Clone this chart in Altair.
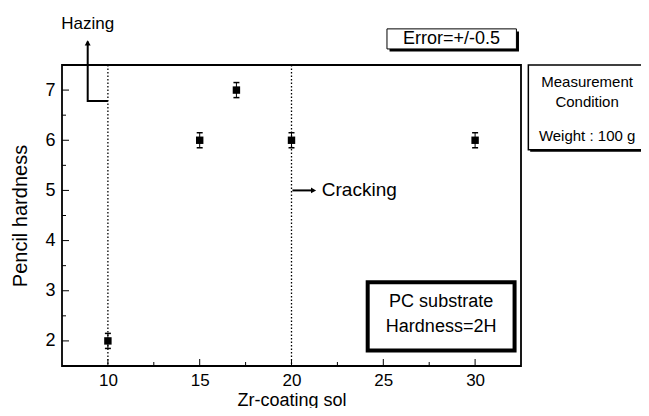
import altair as alt
import pandas as pd

# ---- data ----
zr_sol = [10, 15, 17, 20, 30]
hardness = [2, 6, 7, 6, 6]
err = [0.15, 0.15, 0.15, 0.15, 0.15]

x_major = [10, 15, 20, 25, 30]
x_minor = [12.5, 17.5, 22.5, 27.5]
y_major = [2, 3, 4, 5, 6, 7]
y_minor = [2.5, 3.5, 4.5, 5.5, 6.5]

boundaries = [10, 20]

FONT = "Liberation Sans, Arial, Helvetica, sans-serif"
W, H = 459, 301

df = pd.DataFrame({"x": zr_sol, "y": hardness, "lo": [a - b for a, b in zip(hardness, err)],
                   "hi": [a + b for a, b in zip(hardness, err)]})

xs = alt.Scale(domain=[7.5, 32.5], nice=False, zero=False)
ys = alt.Scale(domain=[1.5, 7.5], nice=False, zero=False)

X = lambda f: alt.X(f, type="quantitative", scale=xs)
Y = lambda f: alt.Y(f, type="quantitative", scale=ys)

base = alt.Chart(df)

points = base.mark_point(shape="square", filled=True, size=55, color="black", opacity=1).encode(
    x=alt.X("x:Q", scale=xs, title="Zr-coating sol",
            axis=alt.Axis(values=x_major, ticks=False, domain=False, grid=False, labelFontSize=17,
                          labelPadding=6, titleFontSize=18, titleY=39, titleBaseline="alphabetic",
                          format="d",
                          labelFont=FONT, titleFont=FONT, titleFontWeight="normal",
                          labelColor="black", titleColor="black")),
    y=alt.Y("y:Q", scale=ys, title="Pencil hardness",
            axis=alt.Axis(values=y_major, ticks=False, domain=False, grid=False, labelFontSize=18,
                          labelPadding=7, titleFontSize=20, titlePadding=14, format="d",
                          labelFont=FONT, titleFont=FONT, titleFontWeight="normal",
                          labelColor="black", titleColor="black")),
)
bars = base.mark_rule(color="black", strokeWidth=1).encode(x=X("x"), y=Y("lo"), y2="hi")
caps_lo = base.mark_tick(orient="horizontal", size=6, thickness=1.5, color="black", opacity=1).encode(x=X("x"), y=Y("lo"))
caps_hi = base.mark_tick(orient="horizontal", size=6, thickness=1.5, color="black", opacity=1).encode(x=X("x"), y=Y("hi"))

vlines = alt.Chart(pd.DataFrame({"x": boundaries})).mark_rule(
    color="black", strokeDash=[1.5, 2], strokeWidth=1.3).encode(x=X("x"))

# inward ticks
def xt(vals, L):
    return alt.Chart(pd.DataFrame({"v": vals})).mark_rule(color="black", strokeWidth=1).encode(
        x=X("v"), y=alt.value(H), y2=alt.value(H - L))

def yt(vals, L):
    return alt.Chart(pd.DataFrame({"v": vals})).mark_rule(color="black", strokeWidth=1).encode(
        y=Y("v"), x=alt.value(0), x2=alt.value(L))

ticks = xt(x_major, 7) + xt(x_minor, 4) + yt(y_major, 7) + yt(y_minor, 4)

# Hazing arrow
haze_path = alt.Chart(pd.DataFrame({"x": [8.9, 8.9, 10.0], "y": [7.97, 6.78, 6.78], "o": [0, 1, 2]})).mark_line(
    color="black", strokeWidth=2, clip=False).encode(x=X("x"), y=Y("y"), order="o:Q")
haze_head = alt.Chart(pd.DataFrame({"x": [8.9], "y": [7.94]})).mark_point(
    shape="triangle-up", filled=True, size=35, color="black", opacity=1, clip=False).encode(x=X("x"), y=Y("y"))
haze_text = alt.Chart(pd.DataFrame({"x": [8.9], "y": [8.31], "t": ["Hazing"]})).mark_text(
    font=FONT, fontSize=17, color="black", clip=False).encode(x=X("x"), y=Y("y"), text="t:N")

# Cracking arrow
crack_line = alt.Chart(pd.DataFrame({"x": [20.05], "x2": [21.1], "y": [5.0]})).mark_rule(
    color="black", strokeWidth=2).encode(x=X("x"), x2="x2", y=Y("y"))
crack_head = alt.Chart(pd.DataFrame({"x": [21.2], "y": [5.0]})).mark_point(
    shape="triangle-right", filled=True, size=35, color="black", opacity=1).encode(x=X("x"), y=Y("y"))
crack_text = alt.Chart(pd.DataFrame({"x": [21.65], "y": [5.0], "t": ["Cracking"]})).mark_text(
    font=FONT, fontSize=19, color="black", align="left").encode(x=X("x"), y=Y("y"), text="t:N")

def box(x1, x2, y1, y2, sw, shadow):
    layers = []
    if shadow:
        dx, dy = shadow
        ds = pd.DataFrame({"x": [x1 + dx], "x2": [x2 + dx], "y": [y1 - dy], "y2": [y2 - dy]})
        layers.append(alt.Chart(ds).mark_rect(color="black", clip=False).encode(
            x=X("x"), x2="x2", y=Y("y"), y2="y2"))
    d = pd.DataFrame({"x": [x1], "x2": [x2], "y": [y1], "y2": [y2]})
    layers.append(alt.Chart(d).mark_rect(fill="white", stroke="black", strokeWidth=sw, clip=False).encode(
        x=X("x"), x2="x2", y=Y("y"), y2="y2"))
    return alt.layer(*layers)

def txt(x, ys_, texts, size):
    return alt.Chart(pd.DataFrame({"x": [x] * len(texts), "y": ys_, "t": texts})).mark_text(
        font=FONT, fontSize=size, color="black", clip=False).encode(x=X("x"), y=Y("y"), text="t:N")

err_box = box(25.2, 32.25, 8.22, 7.82, 1, (0.14, 0.05)) + txt(28.72, [8.02], ["Error=+/-0.5"], 18)
meas_box = box(32.9, 39.2, 7.5, 5.81, 1.5, (0.1, 0.04)) + txt(36.1, [7.16, 6.76, 6.08],
                                                     ["Measurement", "Condition", "Weight : 100 g"], 15)
pc_box = box(24.15, 32.15, 3.17, 1.81, 4, None) + txt(28.15, [2.78, 2.28], ["PC substrate", "Hardness=2H"], 18)

chart = alt.layer(
    vlines, ticks, bars, caps_lo, caps_hi, points,
    haze_path, haze_head, haze_text, crack_line, crack_head, crack_text,
    err_box, meas_box, pc_box,
).properties(
    width=W, height=H,
    background="white",
    autosize=alt.AutoSizeParams(type="none"),
    padding={"left": 54, "top": 57, "right": 120, "bottom": 42},
).configure_view(stroke="black", strokeWidth=1.8)

chart.save("out.html", embed_options={"renderer": "svg", "actions": False})
